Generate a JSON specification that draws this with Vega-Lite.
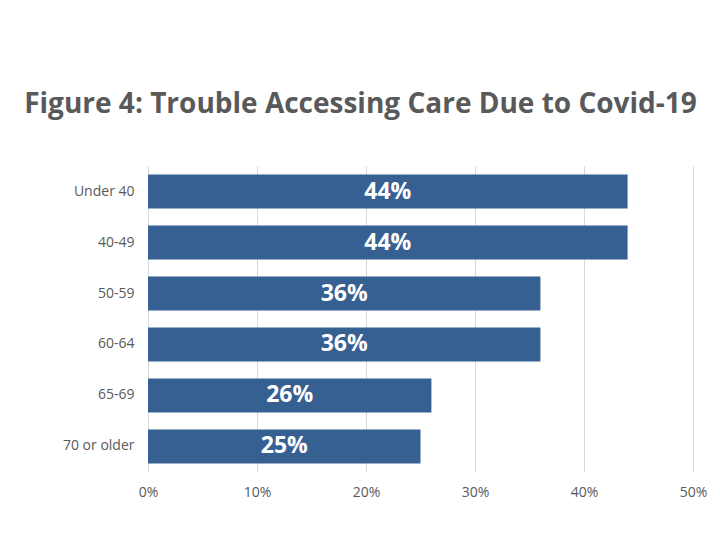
{
  "$schema": "https://vega.github.io/schema/vega-lite/v6.json",
  "width": 545,
  "height": 306,
  "autosize": "none",
  "padding": {"left": 148, "top": 166, "right": 27, "bottom": 68},
  "background": "white",
  "title": {
    "text": "Figure 4: Trouble Accessing Care Due to Covid-19",
    "font": "Open Sans",
    "fontSize": 28,
    "fontWeight": "bold",
    "color": "#595959",
    "anchor": "middle",
    "dx": -60,
    "offset": 47
  },
  "data": {
    "values": [
      {"age": "Under 40", "pct": 0.44},
      {"age": "40-49", "pct": 0.44},
      {"age": "50-59", "pct": 0.36},
      {"age": "60-64", "pct": 0.36},
      {"age": "65-69", "pct": 0.26},
      {"age": "70 or older", "pct": 0.25}
    ]
  },
  "encoding": {
    "y": {
      "field": "age",
      "type": "nominal",
      "sort": null,
      "title": null,
      "scale": {"paddingInner": 0.3333, "paddingOuter": 0.1667},
      "axis": {
        "domain": false,
        "ticks": false,
        "labelFont": "Open Sans",
        "labelFontSize": 14,
        "labelColor": "#595959",
        "labelPadding": 14
      }
    }
  },
  "layer": [
    {
      "mark": {"type": "bar", "color": "#376092"},
      "encoding": {
        "x": {
          "field": "pct",
          "type": "quantitative",
          "scale": {"domain": [0, 0.5]},
          "title": null,
          "axis": {
            "format": "0%",
            "values": [0, 0.1, 0.2, 0.3, 0.4, 0.5],
            "domain": false,
            "ticks": false,
            "grid": true,
            "gridColor": "#d9d9d9",
            "labelFont": "Open Sans",
            "labelFontSize": 14,
            "labelColor": "#595959",
            "labelPadding": 13,
            "labelOverlap": false,
            "labelFlush": false,
            "labelBound": false
          }
        }
      }
    },
    {
      "transform": [{"calculate": "datum.pct / 2", "as": "mid"}],
      "mark": {"type": "text", "color": "white", "font": "Open Sans", "fontSize": 23, "fontWeight": "bold", "baseline": "middle"},
      "encoding": {
        "x": {"field": "mid", "type": "quantitative"},
        "text": {"field": "pct", "type": "quantitative", "format": ".0%"}
      }
    }
  ],
  "config": {"view": {"stroke": null}}
}
